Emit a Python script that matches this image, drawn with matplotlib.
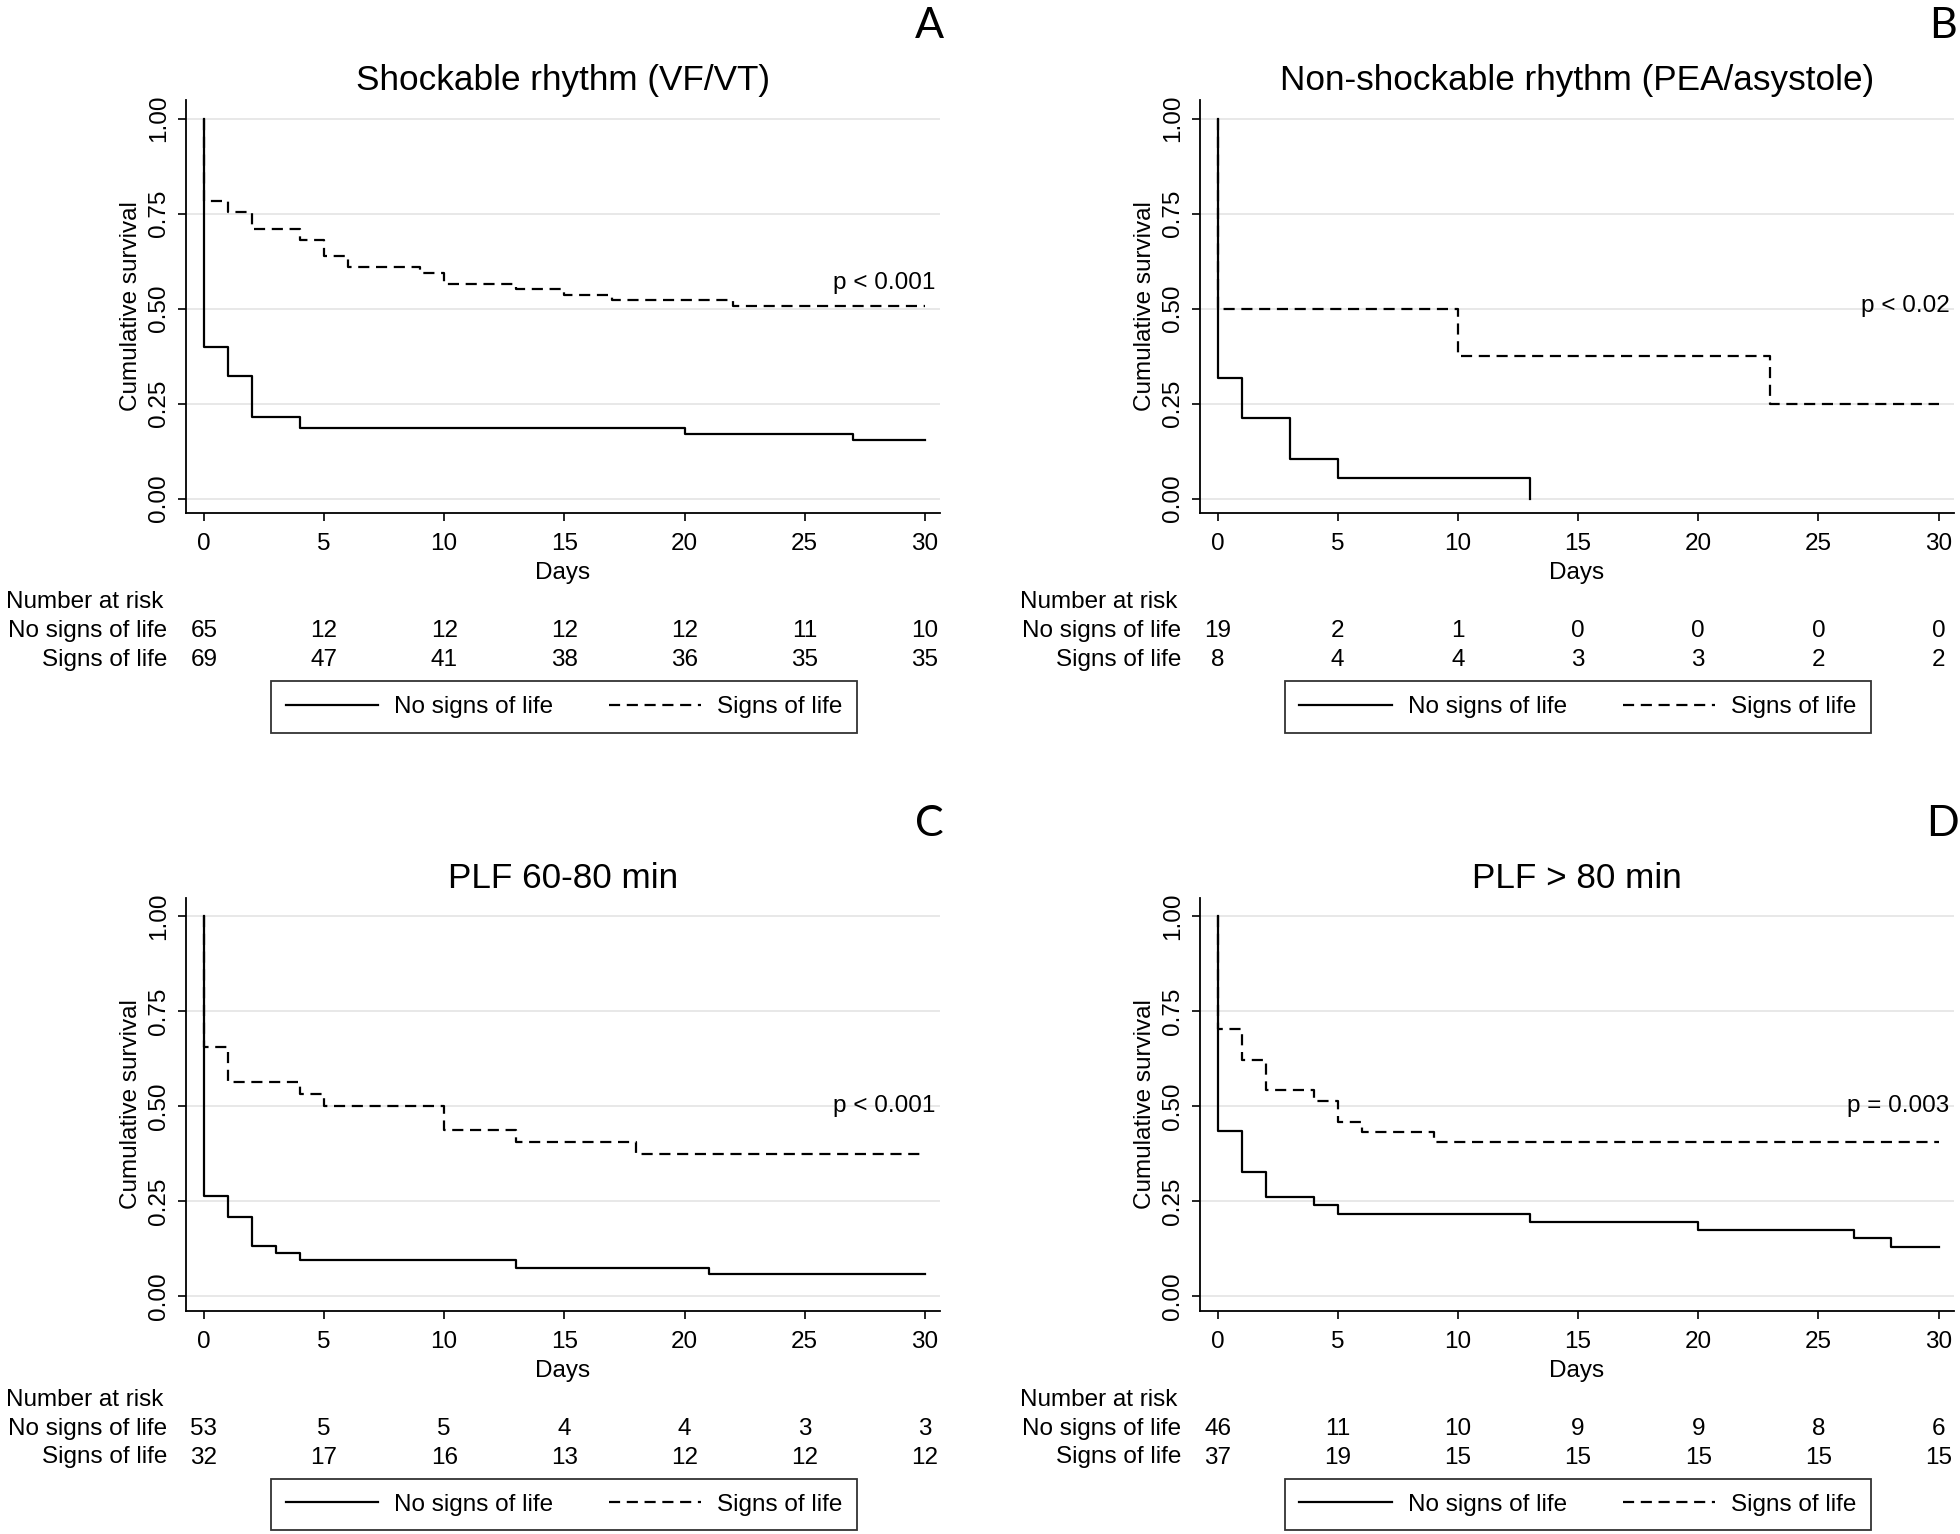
import matplotlib
matplotlib.use("Agg")
import matplotlib.pyplot as plt
from matplotlib.lines import Line2D
from matplotlib.transforms import blended_transform_factory

plt.rcParams['font.family'] = ['Liberation Sans', 'DejaVu Sans']

# datos
dias_ticks = [0, 5, 10, 15, 20, 25, 30]
titulos = ["Shockable rhythm (VF/VT)", "Non-shockable rhythm (PEA/asystole)",
           "PLF 60-80 min", "PLF > 80 min"]
letras = ["A", "B", "C", "D"]
p_textos = ["p < 0.001", "p < 0.02", "p < 0.001", "p = 0.003"]
p_y = [0.566, 0.507, 0.50, 0.50]

# tiempos de evento y supervivencia despues del evento
a_no_t = [0, 1, 2, 4, 20, 27]
a_no_s = [0.400, 0.323, 0.215, 0.185, 0.169, 0.154]
a_si_t = [0, 1, 2, 4, 5, 6, 9, 10, 13, 15, 17, 22]
a_si_s = [0.783, 0.754, 0.710, 0.681, 0.638, 0.609, 0.594, 0.565, 0.551, 0.536, 0.522, 0.507]

b_no_t = [0, 1, 3, 5, 13]
b_no_s = [0.316, 0.211, 0.105, 0.053, 0.0]
b_si_t = [0, 10, 23]
b_si_s = [0.500, 0.375, 0.250]

c_no_t = [0, 1, 2, 3, 4, 13, 21]
c_no_s = [0.264, 0.208, 0.132, 0.113, 0.094, 0.075, 0.057]
c_si_t = [0, 1, 4, 5, 10, 13, 18]
c_si_s = [0.656, 0.563, 0.531, 0.500, 0.438, 0.406, 0.375]

d_no_t = [0, 1, 2, 4, 5, 13, 20, 26.5, 28]
d_no_s = [0.435, 0.326, 0.261, 0.239, 0.217, 0.196, 0.174, 0.152, 0.130]
d_si_t = [0, 1, 2, 4, 5, 6, 9]
d_si_s = [0.703, 0.622, 0.541, 0.514, 0.459, 0.432, 0.405]

# fin de seguimiento de cada curva
fin_no = [30, 13, 30, 30]
fin_si = [30, 30, 30, 30]

# numero en riesgo
a_riesgo_no = [65, 12, 12, 12, 12, 11, 10]
a_riesgo_si = [69, 47, 41, 38, 36, 35, 35]
b_riesgo_no = [19, 2, 1, 0, 0, 0, 0]
b_riesgo_si = [8, 4, 4, 3, 3, 2, 2]
c_riesgo_no = [53, 5, 5, 4, 4, 3, 3]
c_riesgo_si = [32, 17, 16, 13, 12, 12, 12]
d_riesgo_no = [46, 11, 10, 9, 9, 8, 6]
d_riesgo_si = [37, 19, 15, 15, 15, 15, 15]

curvas_no = [(a_no_t, a_no_s), (b_no_t, b_no_s), (c_no_t, c_no_s), (d_no_t, d_no_s)]
curvas_si = [(a_si_t, a_si_s), (b_si_t, b_si_s), (c_si_t, c_si_s), (d_si_t, d_si_s)]
riesgo_no = [a_riesgo_no, b_riesgo_no, c_riesgo_no, d_riesgo_no]
riesgo_si = [a_riesgo_si, b_riesgo_si, c_riesgo_si, d_riesgo_si]

W, H = 1960, 1534
fig = plt.figure(figsize=(W / 100, H / 100), dpi=100)
FS = 17.5


def fx(px):
    return px / W


def fy(py):
    return 1 - py / H


def escalon(t, s, fin):
    x = [0] + list(t)
    y = [1.0] + list(s)
    if fin > x[-1]:
        x.append(fin)
        y.append(y[-1])
    return x, y


offsets = [(0, 0), (1013.75, 0), (0, 797.5), (1013.75, 797.5)]

for i in range(4):
    ox, oy = offsets[i]
    left, right, top, bottom = 186 + ox, 940 + ox, 100 + oy, 513 + oy
    ax = fig.add_axes([fx(left), fy(bottom), fx(right - left), (bottom - top) / H])
    ax.set_xlim(-0.74, 30.63)
    ax.set_ylim(-0.038, 1.0487)

    for sp in ['top', 'right']:
        ax.spines[sp].set_visible(False)
    for sp in ['left', 'bottom']:
        ax.spines[sp].set_linewidth(1.3)

    ax.set_yticks([0, 0.25, 0.5, 0.75, 1.0])
    ax.set_yticklabels(["0.00", "0.25", "0.50", "0.75", "1.00"], rotation=90, va='center')
    ax.set_xticks(dias_ticks)
    ax.tick_params(axis='both', direction='out', length=5.5, width=1.2, labelsize=FS)
    ax.tick_params(axis='x', pad=9)
    ax.tick_params(axis='y', pad=6)
    ax.grid(axis='y', color='#e6e6e6', linewidth=1.3)
    ax.set_axisbelow(True)

    ax.set_xlabel("Days", fontsize=FS, labelpad=5)
    ax.set_ylabel("Cumulative survival", fontsize=FS, labelpad=4)

    x, y = escalon(*curvas_no[i], fin_no[i])
    ax.step(x, y, where='post', color='black', lw=1.6)
    x, y = escalon(*curvas_si[i], fin_si[i])
    ax.step(x, y, where='post', color='black', lw=1.6, dashes=(5, 3))

    ax.text(30.45, p_y[i], p_textos[i], ha='right', va='center', fontsize=FS)

    # titulo y letra del panel
    fig.text(fx(563 + ox), fy(80.5 + oy), titulos[i], ha='center', va='center', fontsize=25.3)
    fig.text(fx(929 + ox), fy(26 + oy), letras[i], ha='center', va='center',
             fontsize=31, family=['Lato', 'DejaVu Sans'])

    # tabla de numero en riesgo
    fig.text(fx(6 + ox), fy(602.5 + oy), "Number at risk", ha='left', va='center', fontsize=FS)
    fig.text(fx(167.5 + ox), fy(631.5 + oy), "No signs of life", ha='right', va='center', fontsize=FS)
    fig.text(fx(167.5 + ox), fy(660 + oy), "Signs of life", ha='right', va='center', fontsize=FS)
    trans = blended_transform_factory(ax.transData, fig.transFigure)
    for d, n1, n2 in zip(dias_ticks, riesgo_no[i], riesgo_si[i]):
        ax.text(d, fy(631.5 + oy), str(n1), transform=trans, ha='center', va='center', fontsize=FS)
        ax.text(d, fy(660 + oy), str(n2), transform=trans, ha='center', va='center', fontsize=FS)

    handles = [Line2D([], [], color='black', lw=1.6),
               Line2D([], [], color='black', lw=1.6, dashes=(5, 3))]
    leg = fig.legend(handles, ["No signs of life", "Signs of life"], loc='center',
                     bbox_to_anchor=(fx(564 + ox), fy(707 + oy)), ncol=2, frameon=True,
                     fancybox=False, edgecolor='black', fontsize=FS, handlelength=3.8,
                     columnspacing=2.3, handletextpad=0.65, borderpad=0.6, borderaxespad=0)
    leg.get_frame().set_linewidth(1.3)

fig.savefig("out.png", dpi=100, facecolor='white')
